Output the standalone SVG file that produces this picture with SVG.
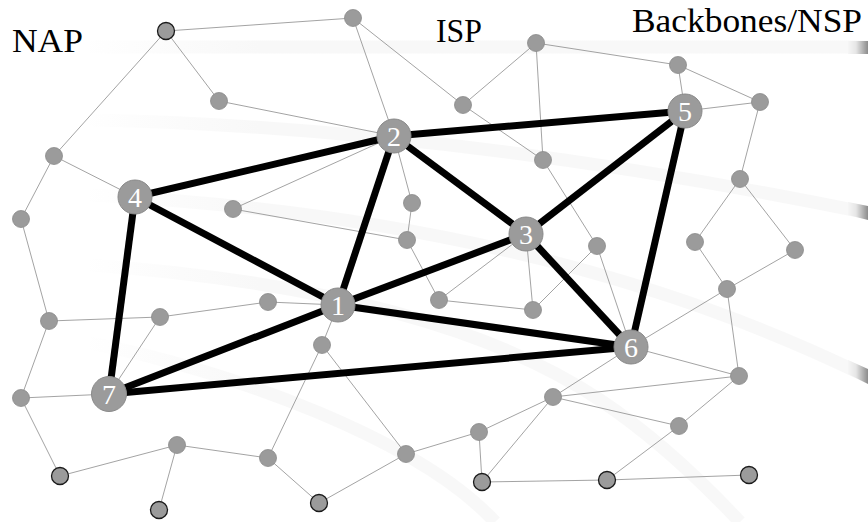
<svg xmlns="http://www.w3.org/2000/svg" width="868" height="522" viewBox="0 0 868 522">
<defs>
<linearGradient id="fadeIn" gradientUnits="userSpaceOnUse" x1="80" y1="0" x2="260" y2="0">
<stop offset="0" stop-color="#f8f8f8" stop-opacity="0"/>
<stop offset="1" stop-color="#f8f8f8" stop-opacity="1"/>
</linearGradient>
<linearGradient id="endG" x1="0" y1="0" x2="1" y2="0">
<stop offset="0" stop-color="#f6f6f6"/>
<stop offset="0.4" stop-color="#e6e6e6"/>
<stop offset="1" stop-color="#8c8c8c"/>
</linearGradient>
<style>
.band{fill:none;stroke:url(#fadeIn);stroke-width:13}
.thin{stroke:#8c8c8c;stroke-width:0.8;fill:none}
.thick{stroke:#000;stroke-width:7;fill:none}
.sn{fill:#9b9b9b;stroke:#8a8a8a;stroke-width:0.8}
.dn{fill:#9b9b9b;stroke:#1a1a1a;stroke-width:1.3}
.bn{fill:#9b9b9b;stroke:#8a8a8a;stroke-width:1}
.lbl{fill:#fff;font-family:"Liberation Serif","DejaVu Serif",serif;font-size:28px;text-anchor:middle}
.ttl{fill:#000;font-family:"Liberation Serif","DejaVu Serif",serif;font-size:33px}
</style>
</defs>
<rect width="868" height="522" fill="#fff"/>
<g id="background">
<path class="band" d="M90,47 L868,47"/>
<path class="band" d="M90,120 C300,124 560,150 868,213"/>
<path class="band" d="M90,195 C380,210 640,265 868,377"/>
<path class="band" d="M90,265 C300,280 480,320 600,400 C660,440 710,490 740,522"/>
<path class="band" d="M90,343 C230,370 420,440 495,522"/>
<rect x="848" y="41" width="20" height="13" fill="url(#endG)"/>
<polygon points="848,202 868,206 868,220 848,215" fill="url(#endG)"/>
<polygon points="848,360 868,369 868,384 848,374" fill="url(#endG)"/>
</g>
<g id="connectors">
<g id="links-thin" class="thin">
<line x1="166" y1="31" x2="353" y2="18"/>
<line x1="166" y1="31" x2="219" y2="101"/>
<line x1="166" y1="31" x2="54" y2="156"/>
<line x1="219" y1="101" x2="394" y2="136"/>
<line x1="353" y1="18" x2="394" y2="136"/>
<line x1="353" y1="18" x2="463" y2="105"/>
<line x1="463" y1="105" x2="536" y2="43"/>
<line x1="463" y1="105" x2="543" y2="160"/>
<line x1="536" y1="43" x2="543" y2="160"/>
<line x1="536" y1="43" x2="678" y2="65"/>
<line x1="678" y1="65" x2="685" y2="111"/>
<line x1="678" y1="65" x2="760" y2="102"/>
<line x1="685" y1="111" x2="760" y2="102"/>
<line x1="760" y1="102" x2="740" y2="179"/>
<line x1="740" y1="179" x2="695" y2="242"/>
<line x1="740" y1="179" x2="795" y2="250"/>
<line x1="695" y1="242" x2="727" y2="289"/>
<line x1="795" y1="250" x2="727" y2="289"/>
<line x1="727" y1="289" x2="631" y2="347"/>
<line x1="727" y1="289" x2="739" y2="376"/>
<line x1="631" y1="347" x2="739" y2="376"/>
<line x1="543" y1="160" x2="597" y2="246"/>
<line x1="597" y1="246" x2="631" y2="347"/>
<line x1="597" y1="246" x2="533" y2="310"/>
<line x1="526" y1="234" x2="533" y2="310"/>
<line x1="526" y1="234" x2="439" y2="300"/>
<line x1="439" y1="300" x2="533" y2="310"/>
<line x1="407" y1="240" x2="439" y2="300"/>
<line x1="412" y1="203" x2="407" y2="240"/>
<line x1="394" y1="136" x2="412" y2="203"/>
<line x1="233" y1="209" x2="394" y2="136"/>
<line x1="233" y1="209" x2="407" y2="240"/>
<line x1="54" y1="156" x2="135" y2="197"/>
<line x1="54" y1="156" x2="21" y2="219"/>
<line x1="21" y1="219" x2="49" y2="321"/>
<line x1="49" y1="321" x2="21" y2="398"/>
<line x1="49" y1="321" x2="160" y2="317"/>
<line x1="160" y1="317" x2="268" y2="302"/>
<line x1="268" y1="302" x2="338" y2="305"/>
<line x1="160" y1="317" x2="109" y2="394"/>
<line x1="21" y1="398" x2="109" y2="394"/>
<line x1="21" y1="398" x2="60" y2="476"/>
<line x1="60" y1="476" x2="177" y2="445"/>
<line x1="177" y1="445" x2="159" y2="510"/>
<line x1="177" y1="445" x2="268" y2="458"/>
<line x1="268" y1="458" x2="322" y2="345"/>
<line x1="268" y1="458" x2="319" y2="503"/>
<line x1="322" y1="345" x2="338" y2="305"/>
<line x1="322" y1="345" x2="406" y2="454"/>
<line x1="406" y1="454" x2="319" y2="503"/>
<line x1="406" y1="454" x2="479" y2="432"/>
<line x1="479" y1="432" x2="482" y2="482"/>
<line x1="479" y1="432" x2="553" y2="397"/>
<line x1="553" y1="397" x2="482" y2="482"/>
<line x1="482" y1="482" x2="607" y2="480"/>
<line x1="553" y1="397" x2="631" y2="347"/>
<line x1="553" y1="397" x2="739" y2="376"/>
<line x1="553" y1="397" x2="679" y2="426"/>
<line x1="679" y1="426" x2="739" y2="376"/>
<line x1="679" y1="426" x2="607" y2="480"/>
<line x1="607" y1="480" x2="749" y2="475"/>
</g>
<g id="links-thick" class="thick">
<line x1="135" y1="197" x2="394" y2="136"/>
<line x1="394" y1="136" x2="685" y2="111"/>
<line x1="394" y1="136" x2="338" y2="305"/>
<line x1="394" y1="136" x2="526" y2="234"/>
<line x1="135" y1="197" x2="338" y2="305"/>
<line x1="135" y1="197" x2="109" y2="394"/>
<line x1="338" y1="305" x2="526" y2="234"/>
<line x1="338" y1="305" x2="109" y2="394"/>
<line x1="338" y1="305" x2="631" y2="347"/>
<line x1="109" y1="394" x2="631" y2="347"/>
<line x1="526" y1="234" x2="685" y2="111"/>
<line x1="526" y1="234" x2="631" y2="347"/>
<line x1="685" y1="111" x2="631" y2="347"/>
</g>
</g>
<g id="nodes">
<g id="n-a"><circle class="dn" cx="166" cy="31" r="8.5"/></g>
<g id="n-b"><circle class="sn" cx="353" cy="18" r="8.5"/></g>
<g id="n-c"><circle class="sn" cx="219" cy="101" r="8.5"/></g>
<g id="n-d"><circle class="sn" cx="463" cy="105" r="8.5"/></g>
<g id="n-e"><circle class="sn" cx="536" cy="43" r="8.5"/></g>
<g id="n-f"><circle class="sn" cx="678" cy="65" r="8.5"/></g>
<g id="n-g"><circle class="sn" cx="760" cy="102" r="8.5"/></g>
<g id="n-h"><circle class="sn" cx="543" cy="160" r="8.5"/></g>
<g id="n-i"><circle class="sn" cx="54" cy="156" r="8.5"/></g>
<g id="n-j"><circle class="sn" cx="21" cy="219" r="8.5"/></g>
<g id="n-k"><circle class="sn" cx="233" cy="209" r="8.5"/></g>
<g id="n-l"><circle class="sn" cx="412" cy="203" r="8.5"/></g>
<g id="n-m"><circle class="sn" cx="407" cy="240" r="8.5"/></g>
<g id="n-n"><circle class="sn" cx="740" cy="179" r="8.5"/></g>
<g id="n-o"><circle class="sn" cx="695" cy="242" r="8.5"/></g>
<g id="n-p"><circle class="sn" cx="795" cy="250" r="8.5"/></g>
<g id="n-q"><circle class="sn" cx="597" cy="246" r="8.5"/></g>
<g id="n-r"><circle class="sn" cx="439" cy="300" r="8.5"/></g>
<g id="n-s"><circle class="sn" cx="533" cy="310" r="8.5"/></g>
<g id="n-t"><circle class="sn" cx="727" cy="289" r="8.5"/></g>
<g id="n-u"><circle class="sn" cx="268" cy="302" r="8.5"/></g>
<g id="n-v"><circle class="sn" cx="49" cy="321" r="8.5"/></g>
<g id="n-w"><circle class="sn" cx="160" cy="317" r="8.5"/></g>
<g id="n-x"><circle class="sn" cx="322" cy="345" r="8.5"/></g>
<g id="n-y"><circle class="sn" cx="21" cy="398" r="8.5"/></g>
<g id="n-z"><circle class="sn" cx="739" cy="376" r="8.5"/></g>
<g id="n-aa"><circle class="sn" cx="553" cy="397" r="8.5"/></g>
<g id="n-ab"><circle class="sn" cx="479" cy="432" r="8.5"/></g>
<g id="n-ac"><circle class="sn" cx="679" cy="426" r="8.5"/></g>
<g id="n-ad"><circle class="sn" cx="177" cy="445" r="8.5"/></g>
<g id="n-ae"><circle class="sn" cx="268" cy="458" r="8.5"/></g>
<g id="n-af"><circle class="sn" cx="406" cy="454" r="8.5"/></g>
<g id="n-ag"><circle class="dn" cx="60" cy="476" r="8.5"/></g>
<g id="n-ah"><circle class="dn" cx="159" cy="510" r="8.5"/></g>
<g id="n-ai"><circle class="dn" cx="319" cy="503" r="8.5"/></g>
<g id="n-aj"><circle class="dn" cx="482" cy="482" r="8.5"/></g>
<g id="n-ak"><circle class="dn" cx="607" cy="480" r="8.5"/></g>
<g id="n-al"><circle class="dn" cx="749" cy="475" r="8.5"/></g>
<g id="n-1"><circle class="bn" cx="338" cy="305" r="17"/><text class="lbl" x="338" y="315">1</text></g>
<g id="n-2"><circle class="bn" cx="394" cy="136" r="17"/><text class="lbl" x="394" y="146">2</text></g>
<g id="n-3"><circle class="bn" cx="526" cy="234" r="17"/><text class="lbl" x="526" y="244">3</text></g>
<g id="n-4"><circle class="bn" cx="135" cy="197" r="17"/><text class="lbl" x="135" y="207">4</text></g>
<g id="n-5"><circle class="bn" cx="685" cy="111" r="17"/><text class="lbl" x="685" y="121">5</text></g>
<g id="n-6"><circle class="bn" cx="631" cy="347" r="17"/><text class="lbl" x="631" y="357">6</text></g>
<g id="n-7"><circle class="bn" cx="109" cy="394" r="17.5"/><text class="lbl" x="109" y="404">7</text></g>
</g>
<g id="titles">
<text class="ttl" x="12" y="52" textLength="71" lengthAdjust="spacingAndGlyphs">NAP</text>
<text class="ttl" x="436" y="42" textLength="46" lengthAdjust="spacingAndGlyphs">ISP</text>
<text class="ttl" x="632" y="32" textLength="230" lengthAdjust="spacingAndGlyphs">Backbones/NSP</text>
</g>
</svg>
